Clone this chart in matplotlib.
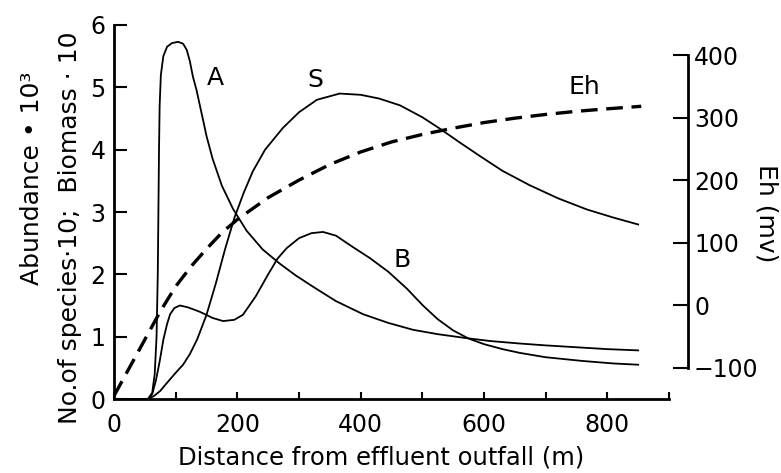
import matplotlib
matplotlib.use("Agg")
import matplotlib.pyplot as plt

# Abundance (A), x in m, y in left-axis units
a_x = [0, 55, 62, 66, 69, 71, 72, 73, 74, 76, 80, 86, 94, 104, 112, 118, 123, 128,
       134, 139, 145, 150, 160, 175, 193, 215, 241, 269, 295, 323, 360, 404, 445,
       485, 525, 569, 610, 658, 700, 750, 800, 850]
a_y = [0, 0, 0.1, 0.4, 1.0, 2.0, 3.0, 4.0, 4.7, 5.2, 5.5, 5.65, 5.71, 5.73, 5.7,
       5.6, 5.42, 5.17, 4.95, 4.72, 4.45, 4.22, 3.85, 3.42, 3.05, 2.7, 2.4, 2.17,
       1.98, 1.8, 1.57, 1.36, 1.22, 1.11, 1.04, 0.98, 0.93, 0.89, 0.86, 0.83, 0.8,
       0.78]

# Biomass (B)
b_x = [0, 55, 62, 68, 74, 80, 86, 91, 98, 107, 120, 139, 160, 177, 195, 209, 230,
       250, 265, 280, 300, 320, 339, 360, 387, 415, 445, 475, 501, 525, 550, 575,
       600, 630, 658, 700, 760, 810, 850]
b_y = [0, 0, 0.08, 0.3, 0.6, 0.95, 1.2, 1.36, 1.46, 1.5, 1.47, 1.4, 1.3, 1.25,
       1.27, 1.35, 1.65, 2.0, 2.25, 2.42, 2.58, 2.66, 2.68, 2.62, 2.44, 2.26, 2.04,
       1.77, 1.5, 1.28, 1.1, 0.97, 0.88, 0.8, 0.74, 0.67, 0.61, 0.57, 0.55]

# No. of species (S)
s_x = [0, 55, 65, 75, 86, 100, 112, 123, 135, 150, 165, 180, 195, 210, 225, 245,
       274, 300, 329, 366, 400, 430, 464, 500, 528, 560, 593, 630, 674, 720, 767,
       810, 850]
s_y = [0, 0, 0.05, 0.13, 0.26, 0.42, 0.55, 0.72, 0.96, 1.35, 1.85, 2.4, 2.9, 3.3,
       3.65, 4.0, 4.35, 4.6, 4.8, 4.9, 4.88, 4.82, 4.71, 4.52, 4.34, 4.12, 3.9,
       3.66, 3.43, 3.22, 3.04, 2.91, 2.8]

# Eh (mV), right axis
eh_x = [0, 25, 50, 75, 100, 125, 150, 175, 200, 250, 300, 350, 400, 450, 500, 550,
        600, 650, 700, 750, 800, 855]
eh_y = [-145, -100, -55, -10, 30, 62, 90, 116, 137, 172, 200, 225, 245, 261, 273,
        283, 292, 299, 305, 310, 314, 318]

plt.rcParams['font.family'] = 'DejaVu Sans'
plt.rcParams['font.size'] = 17

fig = plt.figure(figsize=(7.81, 4.73), dpi=100)
ax = fig.add_axes([114 / 781, 74 / 473, 555 / 781, 374 / 473])

ax.plot(a_x, a_y, color='black', lw=1.3)
ax.plot(b_x, b_y, color='black', lw=1.3)
ax.plot(s_x, s_y, color='black', lw=1.3)

ax.set_xlim(0, 900)
ax.set_ylim(0, 6)
ax.set_xticks([0, 200, 400, 600, 800])
ax.set_xticks([100, 300, 500, 700, 900], minor=True)
ax.set_yticks([0, 1, 2, 3, 4, 5, 6])
ax.tick_params(axis='x', which='both', direction='in', length=5, width=1.5, pad=10,
               labelsize=17)
ax.tick_params(axis='y', direction='in', length=9, width=1.5, pad=6, labelsize=17)
ax.spines['top'].set_visible(False)
ax.spines['right'].set_visible(False)
ax.spines['left'].set_linewidth(2)
ax.spines['bottom'].set_linewidth(2)

ax.text(150, 5.15, 'A', fontsize=18, va='center', ha='left')
ax.text(314, 5.12, 'S', fontsize=18, va='center', ha='left')
ax.text(453, 2.23, 'B', fontsize=18, va='center', ha='left')
ax.text(762, 5.0, 'Eh', fontsize=18, va='center', ha='center')

ax2 = ax.twinx()
ax2.plot(eh_x, eh_y, color='black', lw=2.4, linestyle=(0, (5, 2.6)))
ax2.set_ylim(-150, 448)
ax2.set_yticks([-100, 0, 100, 200, 300, 400])
ax2.spines['right'].set_bounds(-100, 400)
ax2.spines['right'].set_position(('outward', 14))
ax2.spines['right'].set_linewidth(2)
for side in ['top', 'left', 'bottom']:
    ax2.spines[side].set_visible(False)
ax2.tick_params(axis='y', direction='in', length=11, width=1.5, pad=4, labelsize=17)

fig.text(381 / 781, 1 - 457 / 473, 'Distance from effluent outfall (m)',
         ha='center', va='center', fontsize=17.5)
fig.text(32 / 781, 1 - 178 / 473, 'Abundance • 10³', rotation=90,
         ha='center', va='center', fontsize=18)
fig.text(70 / 781, 1 - 228 / 473, 'No.of species·10;  Biomass · 10',
         rotation=90, ha='center', va='center', fontsize=18)
fig.text(766 / 781, 1 - 213 / 473, 'Eh (mv)', rotation=-90,
         ha='center', va='center', fontsize=18)

fig.savefig('out.png', dpi=100)
